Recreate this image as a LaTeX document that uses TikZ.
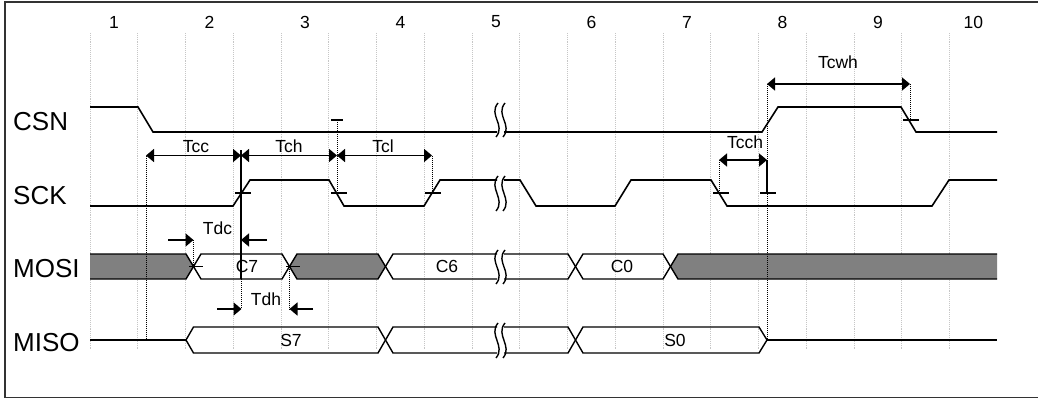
\documentclass[tikz,border=0pt]{standalone}
\usepackage{fontspec}
\setmainfont{Liberation Sans}
\usetikzlibrary{arrows.meta}

\begin{document}
\begin{tikzpicture}[x=1pt, y=-1pt,
  sig/.style={line width=1.6pt},
  bus/.style={line width=1.4pt},
  gridline/.style={gray!45, densely dotted, line width=0.9pt},
  guide/.style={densely dotted, line width=1pt},
  dim/.style={line width=1.5pt, {Triangle[length=8pt,width=13pt]}-{Triangle[length=8pt,width=13pt]}},
  halfdim/.style={line width=1.5pt, -{Triangle[length=8pt,width=13pt]}},
  edgetick/.style={line width=1.2pt},
  brk/.style={line width=1.4pt},
  signame/.style={font=\fontsize{26}{30}\selectfont, anchor=west, inner sep=0pt},
  numlabel/.style={font=\fontsize{17.5}{20}\selectfont},
  tlabel/.style={font=\fontsize{17.5}{20}\selectfont, inner sep=0pt},
  buslabel/.style={font=\fontsize{17.5}{20}\selectfont, inner sep=0pt}]
\useasboundingbox (0,0) rectangle (1038,401);

% frame
\draw[line width=1.2pt, black!80] (1038,2) -- (5,2) -- (5,397.5) -- (1038,397.5);

% grid
\foreach \i in {0,...,18}
  \draw[gridline] ({90+47.75*\i},33) -- ({90+47.75*\i},350);
\foreach \n in {1,...,10}
  \node[numlabel] (n\n) at ({113.9+95.5*(\n-1)},22) {\n};

% signal names
\node[signame] (csn)  at (13,122)   {CSN};
\node[signame] (sck)  at (13,196)   {SCK};
\node[signame] (mosi) at (13,269)   {MOSI};
\node[signame] (miso) at (13,343)   {MISO};

%------------------------------------------------------
% CSN
\draw[sig] (90,107) -- (138,107) -- (153,132) -- (497,132);
\draw[sig] (504,132) -- (762,132) -- (778,107) -- (901,107) -- (916,132) -- (997,132);

% SCK
\draw[sig] (90,206) -- (233,206) -- (250,180) -- (329,180) -- (344,206) -- (424,206) -- (440,180) -- (497,180);
\draw[sig] (504,180) -- (520,180) -- (536,206) -- (615,206) -- (631,180) -- (711,180) -- (727,206) -- (932,206) -- (949,180) -- (997,180);

% MOSI
\fill[black!50] (90,254) -- (186,254) -- (193.5,266.5) -- (186,279) -- (90,279) -- cycle;
\fill[black!50] (289.5,266.5) -- (297,254) -- (378,254) -- (385.5,266.5) -- (378,279) -- (297,279) -- cycle;
\fill[black!50] (670.5,266.5) -- (678,254) -- (997,254) -- (997,279) -- (678,279) -- cycle;
\draw[bus] (90,254) -- (186,254) -- (201,279) -- (282,279) -- (297,254) -- (378,254) -- (393,279) -- (497,279);
\draw[bus] (90,279) -- (186,279) -- (201,254) -- (282,254) -- (297,279) -- (378,279) -- (393,254) -- (497,254);
\draw[bus] (504,254) -- (568,254) -- (583,279) -- (663,279) -- (678,254) -- (997,254);
\draw[bus] (504,279) -- (568,279) -- (583,254) -- (663,254) -- (678,279) -- (997,279);

% MISO
\draw[sig] (90,340) -- (186,340);
\draw[bus] (186,340) -- (193.5,327) -- (378,327) -- (393,353) -- (497,353);
\draw[bus] (186,340) -- (193.5,353) -- (378,353) -- (393,327) -- (497,327);
\draw[bus] (504,327) -- (568,327) -- (583,353) -- (759,353) -- (767,340);
\draw[bus] (504,353) -- (568,353) -- (583,327) -- (759,327) -- (767,340);
\draw[sig] (767,340) -- (997,340);

% break marks
\foreach \t/\b in {103/137, 176/211, 250/284, 323/358}
  \foreach \x in {497,504}
    \draw[brk] (\x+1,\t) .. controls (\x-9,\t+12) and (\x+9,\b-12) .. (\x-1,\b);

% bus texts
\node[buslabel] (c7) at (247,266.5) {C7};
\node[buslabel] (c6) at (447,266.5) {C6};
\node[buslabel] (c0) at (622,266)   {C0};
\node[buslabel] (s7) at (291,340.5) {S7};
\node[buslabel] (s0) at (675,340.5) {S0};

%------------------------------------------------------
% timing points
\coordinate (pcc)  at (146,155.5);
\coordinate (pch)  at (241,155.5);
\coordinate (pcl)  at (337,155.5);
\coordinate (pce)  at (432,155.5);
\coordinate (pwa)  at (767,84);
\coordinate (pwb)  at (910,84);
\coordinate (pha)  at (719,160);
\coordinate (phb)  at (767,160);

% guides
\draw[guide] (pcc) -- (146,340);
\draw[line width=1.3pt] (241,150) -- (241,279);
\draw[guide] (241,279) -- (241,309);
\draw[guide] (337,120) -- (337,193);
\draw[edgetick] (331,120) -- (343,120);
\draw[guide] (pce) -- (432,193);
\draw[guide] (pwa) -- (767,340);
\draw[guide] (pwb) -- (910,120);
\draw[guide] (pha) -- (719,193);
\draw[line width=1.3pt] (phb) -- (767,193);
\draw[guide] (193.5,240) -- (193.5,266.5);
\draw[guide] (289.5,266.5) -- (289.5,309);

% edge ticks
\draw[edgetick] (235,193) -- (251,193);
\draw[edgetick] (331,193) -- (347,193);
\draw[edgetick] (425,193) -- (441,193);
\draw[edgetick] (713,193) -- (729,193);
\draw[edgetick] (760,193) -- (776,193);
\draw[edgetick] (903,120) -- (919,120);
\draw[edgetick] (189,266.5) -- (203,266.5);
\draw[edgetick] (286,266.5) -- (300,266.5);

% arrows
\draw[dim] (pcc) -- (pch);
\draw[dim] (pch) -- (pcl);
\draw[dim] (pcl) -- (pce);
\draw[dim] (pwa) -- (pwb);
\draw[dim] (pha) -- (phb);
\draw[halfdim] (168,240) -- (193.5,240);
\draw[halfdim] (267,240) -- (241,240);
\draw[halfdim] (217,309) -- (241.5,309);
\draw[halfdim] (313,309) -- (289.5,309);

% labels
\node[tlabel] (tcc)  at (196,146.5) {Tcc};
\node[tlabel] (tch)  at (289,146.5) {Tch};
\node[tlabel] (tcl)  at (383,146.5) {Tcl};
\node[tlabel] (tcch) at (745,142)   {Tcch};
\node[tlabel] (tcwh) at (838,62)    {Tcwh};
\node[tlabel] (tdc)  at (217.5,228) {Tdc};
\node[tlabel] (tdh)  at (266,299.5) {Tdh};
\end{tikzpicture}
\end{document}
